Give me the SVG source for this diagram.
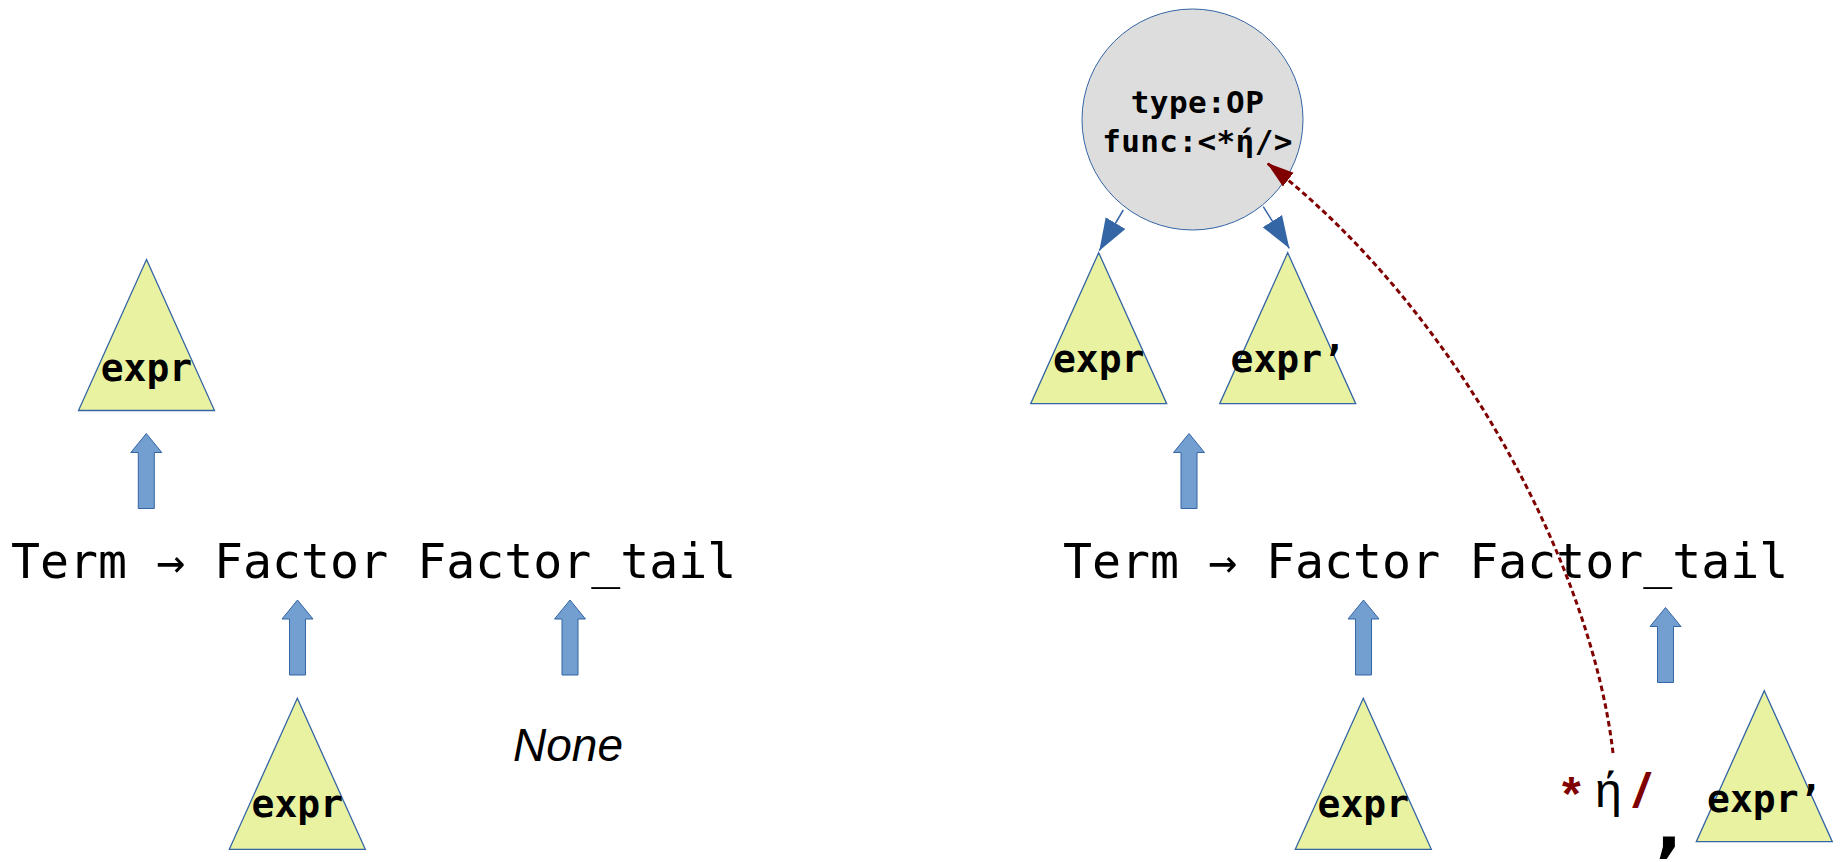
<svg xmlns="http://www.w3.org/2000/svg" width="1842" height="862" viewBox="0 0 1842 862">
  <style>
    .tri { fill: #e8f2a1; stroke: #3465a4; stroke-width: 1.3; }
    .lbl { font-family: "DejaVu Sans Mono", "Liberation Mono", monospace; font-weight: bold; font-size: 38px; fill: #000; text-anchor: middle; }
    .rule { font-family: "DejaVu Sans Mono", "Liberation Mono", monospace; font-size: 48.2px; fill: #000; }
    .node-txt { font-family: "DejaVu Sans Mono", "Liberation Mono", monospace; font-weight: bold; font-size: 31px; letter-spacing: 0.4px; fill: #000; text-anchor: middle; }
    .up { fill: #729fcf; stroke: #3465a4; stroke-width: 1; }
    .link { fill: none; stroke: #3465a4; stroke-width: 1.5; }
    .ref { fill: none; stroke: #800000; stroke-width: 3; stroke-dasharray: 5.5 3.5; }
  </style>
  <defs>
    <!-- block up-arrow, tip at origin -->
    <path id="upArrow" class="up" d="M0,0 L15.5,19 L8,19 L8,75 L-8,75 L-8,19 L-15.5,19 Z"/>
    <!-- tree triangle, apex at origin -->
    <path id="tri" class="tri" d="M0,0 L68,151 L-68,151 Z"/>
    <marker id="blueHead" markerUnits="userSpaceOnUse" markerWidth="40" markerHeight="30" refX="32" refY="0" viewBox="0 -15 40 30" orient="auto">
      <path d="M0,-11.4 L32,0 L0,11.4 Z" fill="#3465a4"/>
    </marker>
    <marker id="redHead" markerUnits="userSpaceOnUse" markerWidth="34" markerHeight="24" refX="27" refY="0" viewBox="0 -12 34 24" orient="auto">
      <path d="M0,-8.7 L27,0 L0,8.7 Z" fill="#800000"/>
    </marker>
  </defs>

  <!-- left: Term -> Factor Factor_tail with empty tail -->
  <g id="left-expr-top">
    <use href="#tri" x="146.5" y="259.5"/>
    <text class="lbl" x="146.5" y="381">expr</text>
  </g>
  <g id="left-rule">
    <text class="rule" x="11" y="578">Term → Factor Factor_tail</text>
  </g>
  <g id="left-expr-factor">
    <use href="#tri" x="297.3" y="698.3"/>
    <text class="lbl" x="297.3" y="816.7">expr</text>
  </g>
  <g id="left-none">
    <text x="513" y="761" font-family="Liberation Sans, Arial, sans-serif" font-style="italic" font-size="46">None</text>
  </g>

  <!-- right: Term -> Factor Factor_tail with operator tail -->
  <g id="op-node">
    <circle cx="1192.5" cy="119.5" r="110.5" fill="#dddddd" stroke="#3465a4" stroke-width="1"/>
    <text class="node-txt" x="1197.5" y="113">type:OP</text>
    <text class="node-txt" x="1197.5" y="151.5">func:&lt;*ή/&gt;</text>
  </g>
  <g id="right-expr-left">
    <use href="#tri" x="1098.7" y="252.7"/>
    <text class="lbl" x="1098.7" y="371.7">expr</text>
  </g>
  <g id="right-expr-right">
    <use href="#tri" x="1287.7" y="252.7"/>
    <text class="lbl" x="1287.7" y="371.7">expr’</text>
  </g>
  <g id="right-rule">
    <text class="rule" x="1063" y="578">Term → Factor Factor_tail</text>
  </g>
  <g id="right-expr-factor">
    <use href="#tri" x="1363.3" y="698.3"/>
    <text class="lbl" x="1363.3" y="816.7">expr</text>
  </g>
  <g id="right-tail-op">
    <text font-family="Liberation Sans, Arial, sans-serif" font-size="48">
      <tspan x="1562" y="810" font-weight="bold" fill="#800000">*</tspan>
      <tspan x="1595" y="806.7" fill="#000">ή</tspan>
      <tspan x="1634" y="806.7" font-weight="bold" font-style="italic" fill="#800000">/</tspan>
    </text>
  </g>
  <g id="right-tail-comma">
    <text x="1656" y="849" font-family="DejaVu Sans, sans-serif" font-weight="bold" font-size="68" fill="#000">,</text>
  </g>
  <g id="right-expr-tail">
    <use href="#tri" x="1764.3" y="690.7"/>
    <text class="lbl" x="1764.3" y="811.7">expr’</text>
  </g>

  <!-- connectors -->
  <g id="connectors">
    <use href="#upArrow" x="146.3" y="433.5"/>
    <use href="#upArrow" x="297.5" y="600"/>
    <use href="#upArrow" x="570" y="600"/>
    <use href="#upArrow" x="1189" y="433.5"/>
    <use href="#upArrow" x="1363.5" y="600"/>
    <use href="#upArrow" x="1665.5" y="607.5"/>
    <path class="link" d="M1123.3,210 L1099.3,250.7" marker-end="url(#blueHead)"/>
    <path class="link" d="M1263.3,206.7 L1289.3,248.3" marker-end="url(#blueHead)"/>
    <path class="ref" d="M1613,753 C1592,570 1460,313 1267,163" marker-end="url(#redHead)"/>
  </g>
</svg>
